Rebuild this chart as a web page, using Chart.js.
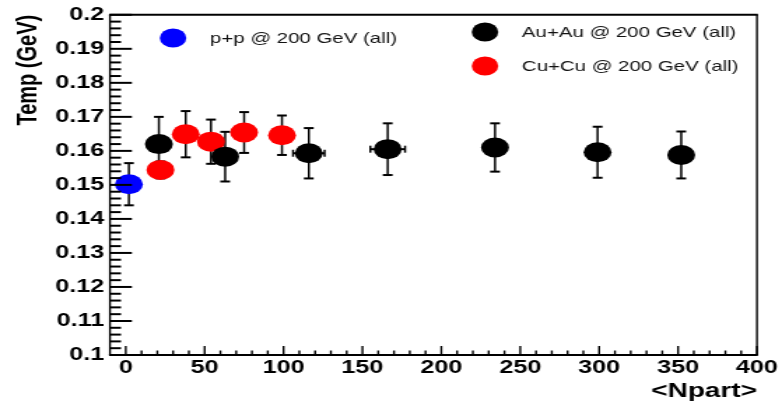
<!DOCTYPE html>
<html><head><meta charset="utf-8">
<script src="https://cdn.jsdelivr.net/npm/chart.js@4"></script>
<style>
html,body{margin:0;padding:0;background:#fff;overflow:hidden;}
#wrap{width:782px;height:401px;overflow:hidden;background:#fff;}
#c{display:block;transform-origin:0 0;transform:scaleX(1.398927);}
</style></head><body>
<div id="wrap"><canvas id="c" width="559" height="401"></canvas></div>
<script>
// ---- data ----
const seriesLabels = ["p+p @ 200 GeV (all)", "Au+Au @ 200 GeV (all)", "Cu+Cu @ 200 GeV (all)"];
const ppNpart = [2];
const ppTemp  = [0.1502];
const ppErr   = [0.0062];
const auNpart = [21, 63, 116, 166, 234, 299, 352];
const auTemp  = [0.1620, 0.1583, 0.1593, 0.1605, 0.1610, 0.1596, 0.1588];
const auErr   = [0.0080, 0.0073, 0.0074, 0.0076, 0.0071, 0.0075, 0.0069];
const auNpartErr = [0, 0, 10, 11, 0, 0, 0];
const cuNpart = [22, 38, 54, 75, 99];
const cuTemp  = [0.1544, 0.1649, 0.1627, 0.1654, 0.1646];
const cuErr   = [0.0025, 0.0068, 0.0065, 0.0060, 0.0058];
const xTicks = [0, 50, 100, 150, 200, 250, 300, 350, 400];
const yTicks = [0.1, 0.11, 0.12, 0.13, 0.14, 0.15, 0.16, 0.17, 0.18, 0.19, 0.2];
const xTitle = "<Npart>";
const yTitle = "Temp (GeV)";

const seriesColors = ["#0000ff", "#000000", "#ff0000"];

function pts(xs, ys){ return xs.map((v,i)=>({x:v, y:ys[i]})); }

Chart.defaults.color = '#000';

const errorBars = {
  id: 'errorBars',
  beforeDatasetsDraw(chart){
    const {ctx, scales:{x, y}} = chart;
    const groups = [[ppNpart, ppTemp, ppErr, null], [auNpart, auTemp, auErr, auNpartErr], [cuNpart, cuTemp, cuErr, null]];
    ctx.save();
    ctx.strokeStyle = '#000';
    const line = (a,b,c,d)=>{ctx.beginPath();ctx.moveTo(a,b);ctx.lineTo(c,d);ctx.stroke();};
    groups.forEach(([xs, ys, es, xes])=>{
      xs.forEach((xv,i)=>{
        const px = x.getPixelForValue(xv), py = y.getPixelForValue(ys[i]);
        const t = y.getPixelForValue(ys[i]+es[i]), b = y.getPixelForValue(ys[i]-es[i]);
        ctx.lineWidth = 1.5; line(px,t,px,b);
        ctx.lineWidth = 2; line(px-3.5,t,px+3.5,t); line(px-3.5,b,px+3.5,b);
        if (xes && xes[i]) {
          const l = x.getPixelForValue(xv-xes[i]), r = x.getPixelForValue(xv+xes[i]);
          ctx.lineWidth = 2; line(l,py,r,py);
          ctx.lineWidth = 1.5; line(l,py-3.5,l,py+3.5); line(r,py-3.5,r,py+3.5);
        }
      });
    });
    ctx.restore();
  }
};

const frameTicks = {
  id: 'frameTicks',
  afterDatasetsDraw(chart){
    const {ctx, chartArea:a, scales:{x, y}} = chart;
    ctx.save();
    ctx.strokeStyle = '#000';
    const line = (p,q,r,s)=>{ctx.beginPath();ctx.moveTo(p,q);ctx.lineTo(r,s);ctx.stroke();};
    // frame
    ctx.lineWidth = 2;
    line(a.left-0.7, a.top, a.right+0.7, a.top);
    line(a.left-0.7, a.bottom, a.right+0.7, a.bottom);
    ctx.lineWidth = 1.4;
    line(a.left, a.top, a.left, a.bottom);
    line(a.right, a.top, a.right, a.bottom);
    // y ticks (inward)
    ctx.lineWidth = 2;
    for (let k = 0; k <= 50; k++) {
      const v = 0.1 + k*0.002;
      const py = y.getPixelForValue(v);
      const len = (k % 5 === 0) ? 15.7 : 7.9;
      line(a.left, py, a.left+len, py);
    }
    // x ticks (inward)
    ctx.lineWidth = 1.4;
    for (let v = 0; v <= 400; v += 10) {
      const px = x.getPixelForValue(v);
      const len = (v % 50 === 0) ? 9 : 4.5;
      line(px, a.bottom, px, a.bottom-len);
    }
    ctx.restore();
  }
};

const legendBox = {
  id: 'legendBox',
  afterDraw(chart){
    const {ctx} = chart;
    const items = [
      {i:0, mx:123.7, my:38, tx:150.1},
      {i:1, mx:346.7, my:32, tx:373.1},
      {i:2, mx:346.7, my:66, tx:373.1}
    ];
    ctx.save();
    ctx.font = '14.6px "Liberation Sans", Arial, sans-serif';
    ctx.textBaseline = 'middle';
    ctx.textAlign = 'left';
    items.forEach(it=>{
      ctx.fillStyle = seriesColors[it.i];
      ctx.beginPath(); ctx.arc(it.mx, it.my, 9.5, 0, Math.PI*2); ctx.fill();
      ctx.fillStyle = '#111';
      ctx.fillText(chart.data.datasets[it.i].label, it.tx, it.my+1);
    });
    ctx.restore();
  }
};

const tickFont = {family: '"Liberation Sans", Arial, sans-serif', size: 18, weight: 'bold'};

new Chart(document.getElementById('c'), {
  type: 'scatter',
  data: {
    datasets: [
      {label: seriesLabels[0], data: pts(ppNpart, ppTemp), backgroundColor: seriesColors[0], borderColor: seriesColors[0], pointRadius: 10, pointBorderWidth: 0, pointHoverRadius: 10},
      {label: seriesLabels[1], data: pts(auNpart, auTemp), backgroundColor: seriesColors[1], borderColor: seriesColors[1], pointRadius: 10, pointBorderWidth: 0, pointHoverRadius: 10},
      {label: seriesLabels[2], data: pts(cuNpart, cuTemp), backgroundColor: seriesColors[2], borderColor: seriesColors[2], pointRadius: 10, pointBorderWidth: 0, pointHoverRadius: 10}
    ]
  },
  options: {
    responsive: false,
    animation: false,
    devicePixelRatio: 1,
    layout: {padding: {left: 0, right: 17.9, top: 12, bottom: 0}},
    plugins: {legend: {display: false}, tooltip: {enabled: false}},
    scales: {
      x: {
        type: 'linear', min: -10, max: 400,
        afterBuildTicks: s => { s.ticks = xTicks.map(v=>({value:v})); },
        afterFit: s => { s.height = 46; },
        grid: {display: false, drawTicks: false}, border: {display: false},
        ticks: {font: tickFont, color: '#000', padding: 2, maxRotation: 0, autoSkip: false, callback: v => String(v)},
        title: {display: true, text: xTitle, align: 'end', color: '#000', padding: {top: 0, bottom: -2},
                font: {family: '"Liberation Sans", Arial, sans-serif', size: 20, weight: 'bold'}}
      },
      y: {
        type: 'linear', min: 0.1, max: 0.2,
        afterBuildTicks: s => { s.ticks = yTicks.map(v=>({value:v})); },
        afterFit: s => { s.width = 78.6; },
        grid: {display: false, drawTicks: false}, border: {display: false},
        ticks: {font: tickFont, color: '#000', padding: 4, autoSkip: false, callback: v => String(+(+v).toFixed(2))},
        title: {display: true, text: yTitle, align: 'end', color: '#000', padding: {top: 8, bottom: 0},
                font: {family: '"Liberation Sans", Arial, sans-serif', size: 20, weight: 'bold'}}
      }
    }
  },
  plugins: [errorBars, frameTicks, legendBox]
});
</script>
</body></html>
